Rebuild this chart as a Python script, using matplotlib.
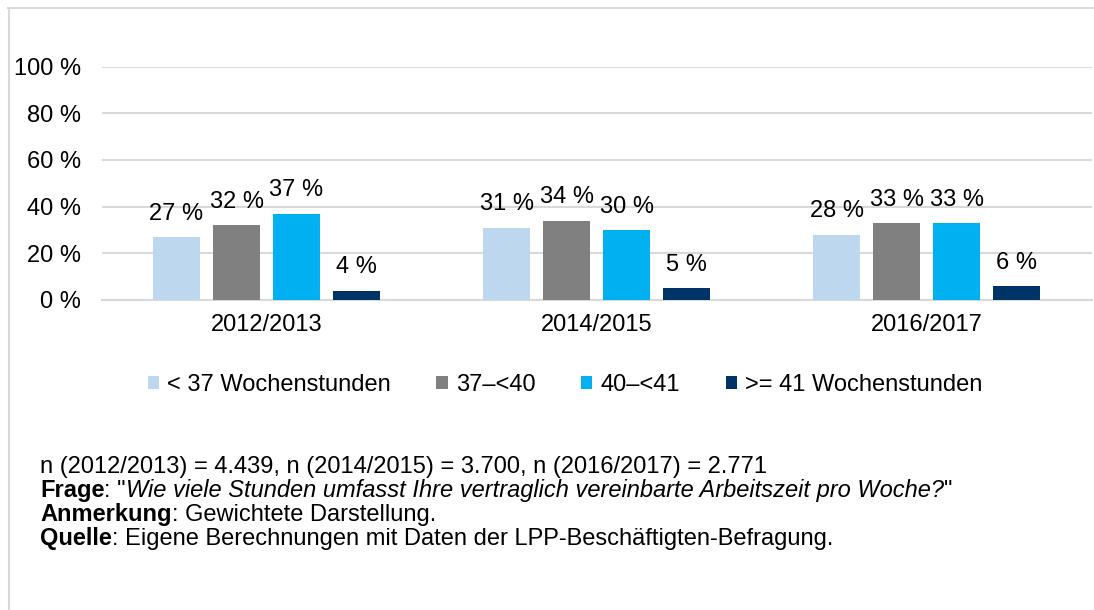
import matplotlib
matplotlib.use("Agg")
import matplotlib.pyplot as plt
from matplotlib.lines import Line2D
from matplotlib.patches import Patch
import numpy as np

plt.rcParams['font.family'] = ['Liberation Sans', 'DejaVu Sans']

# data
categories = ["2012/2013", "2014/2015", "2016/2017"]
series_names = ["< 37 Wochenstunden", "37–<40", "40–<41", ">= 41 Wochenstunden"]
under_37 = [27, 31, 28]
from_37_to_40 = [32, 34, 33]
from_40_to_41 = [37, 30, 33]
over_41 = [4, 5, 6]
yticks = [0, 20, 40, 60, 80, 100]
colors = ["#BDD7EE", "#808080", "#00B0F0", "#003366"]

fs = 17

fig = plt.figure(figsize=(10.94, 6.10), dpi=100)
ax = fig.add_axes([101.5 / 1094, 1 - 300 / 610, 990 / 1094, 233.5 / 610])

x = np.arange(len(categories))
step = 60 / 330
width = 47 / 330
all_series = [under_37, from_37_to_40, from_40_to_41, over_41]
for i, vals in enumerate(all_series):
    pos = x + (i - 1.5) * step
    bars = ax.bar(pos, vals, width=width, color=colors[i], zorder=3)
    for b, v in zip(bars, vals):
        ax.annotate(f"{v} %", (b.get_x() + b.get_width() / 2, v),
                    xytext=(0, 12.5), textcoords="offset points",
                    ha="center", va="baseline", fontsize=fs)

ax.set_xlim(-0.5, 2.5)
ax.set_ylim(0, 100)
ax.set_yticks(yticks)
ax.set_yticklabels([f"{t} %" for t in yticks])
ax.set_xticks(x)
ax.set_xticklabels(categories)
ax.tick_params(axis="both", length=0, labelsize=fs)
ax.tick_params(axis="y", pad=15)
ax.tick_params(axis="x", pad=10)
ax.grid(axis="y", color="#d9d9d9", linewidth=1.5, zorder=0)
for s in ["top", "right", "left"]:
    ax.spines[s].set_visible(False)
ax.spines["bottom"].set_color("#d9d9d9")
ax.spines["bottom"].set_linewidth(1.5)

handles = [Patch(facecolor=c) for c in colors]
fig.legend(handles, series_names, loc="center", ncol=4,
           bbox_to_anchor=(565 / 1094, 1 - 385 / 610), frameon=False,
           fontsize=fs, handlelength=0.47, handleheight=0.47,
           handletextpad=0.34, columnspacing=1.95)

# outer frame (top and left)
fig.add_artist(Line2D([8 / 1094, 1], [1 - 8 / 610, 1 - 8 / 610], color="#d9d9d9", linewidth=1.5))
fig.add_artist(Line2D([9 / 1094, 9 / 1094], [0, 1 - 8 / 610], color="#d9d9d9", linewidth=1.5))

# footer notes
x0 = 40 / 1094
fig.text(x0, 1 - 473 / 610, "n (2012/2013) = 4.439, n (2014/2015) = 3.700, n (2016/2017) = 2.771",
         fontsize=fs, va="baseline")


def chain(y, parts):
    # several text pieces with different weights on one line
    prev = None
    for txt, weight, style in parts:
        if prev is None:
            prev = fig.text(x0, 1 - y / 610, txt, fontsize=fs, va="baseline",
                            fontweight=weight, fontstyle=style)
        else:
            prev = ax.annotate(txt, xy=(1, 0), xycoords=prev, fontsize=fs,
                               va="bottom", ha="left", fontweight=weight,
                               fontstyle=style, annotation_clip=False)


chain(497, [("Frage", "bold", "normal"), (": \"", "normal", "normal"),
            ("Wie viele Stunden umfasst Ihre vertraglich vereinbarte Arbeitszeit pro Woche?", "normal", "italic"),
            ("\"", "normal", "normal")])
chain(521, [("Anmerkung", "bold", "normal"), (": Gewichtete Darstellung.", "normal", "normal")])
chain(545, [("Quelle", "bold", "normal"), (": Eigene Berechnungen mit Daten der LPP-Beschäftigten-Befragung.", "normal", "normal")])

fig.savefig("out.png", dpi=100)
